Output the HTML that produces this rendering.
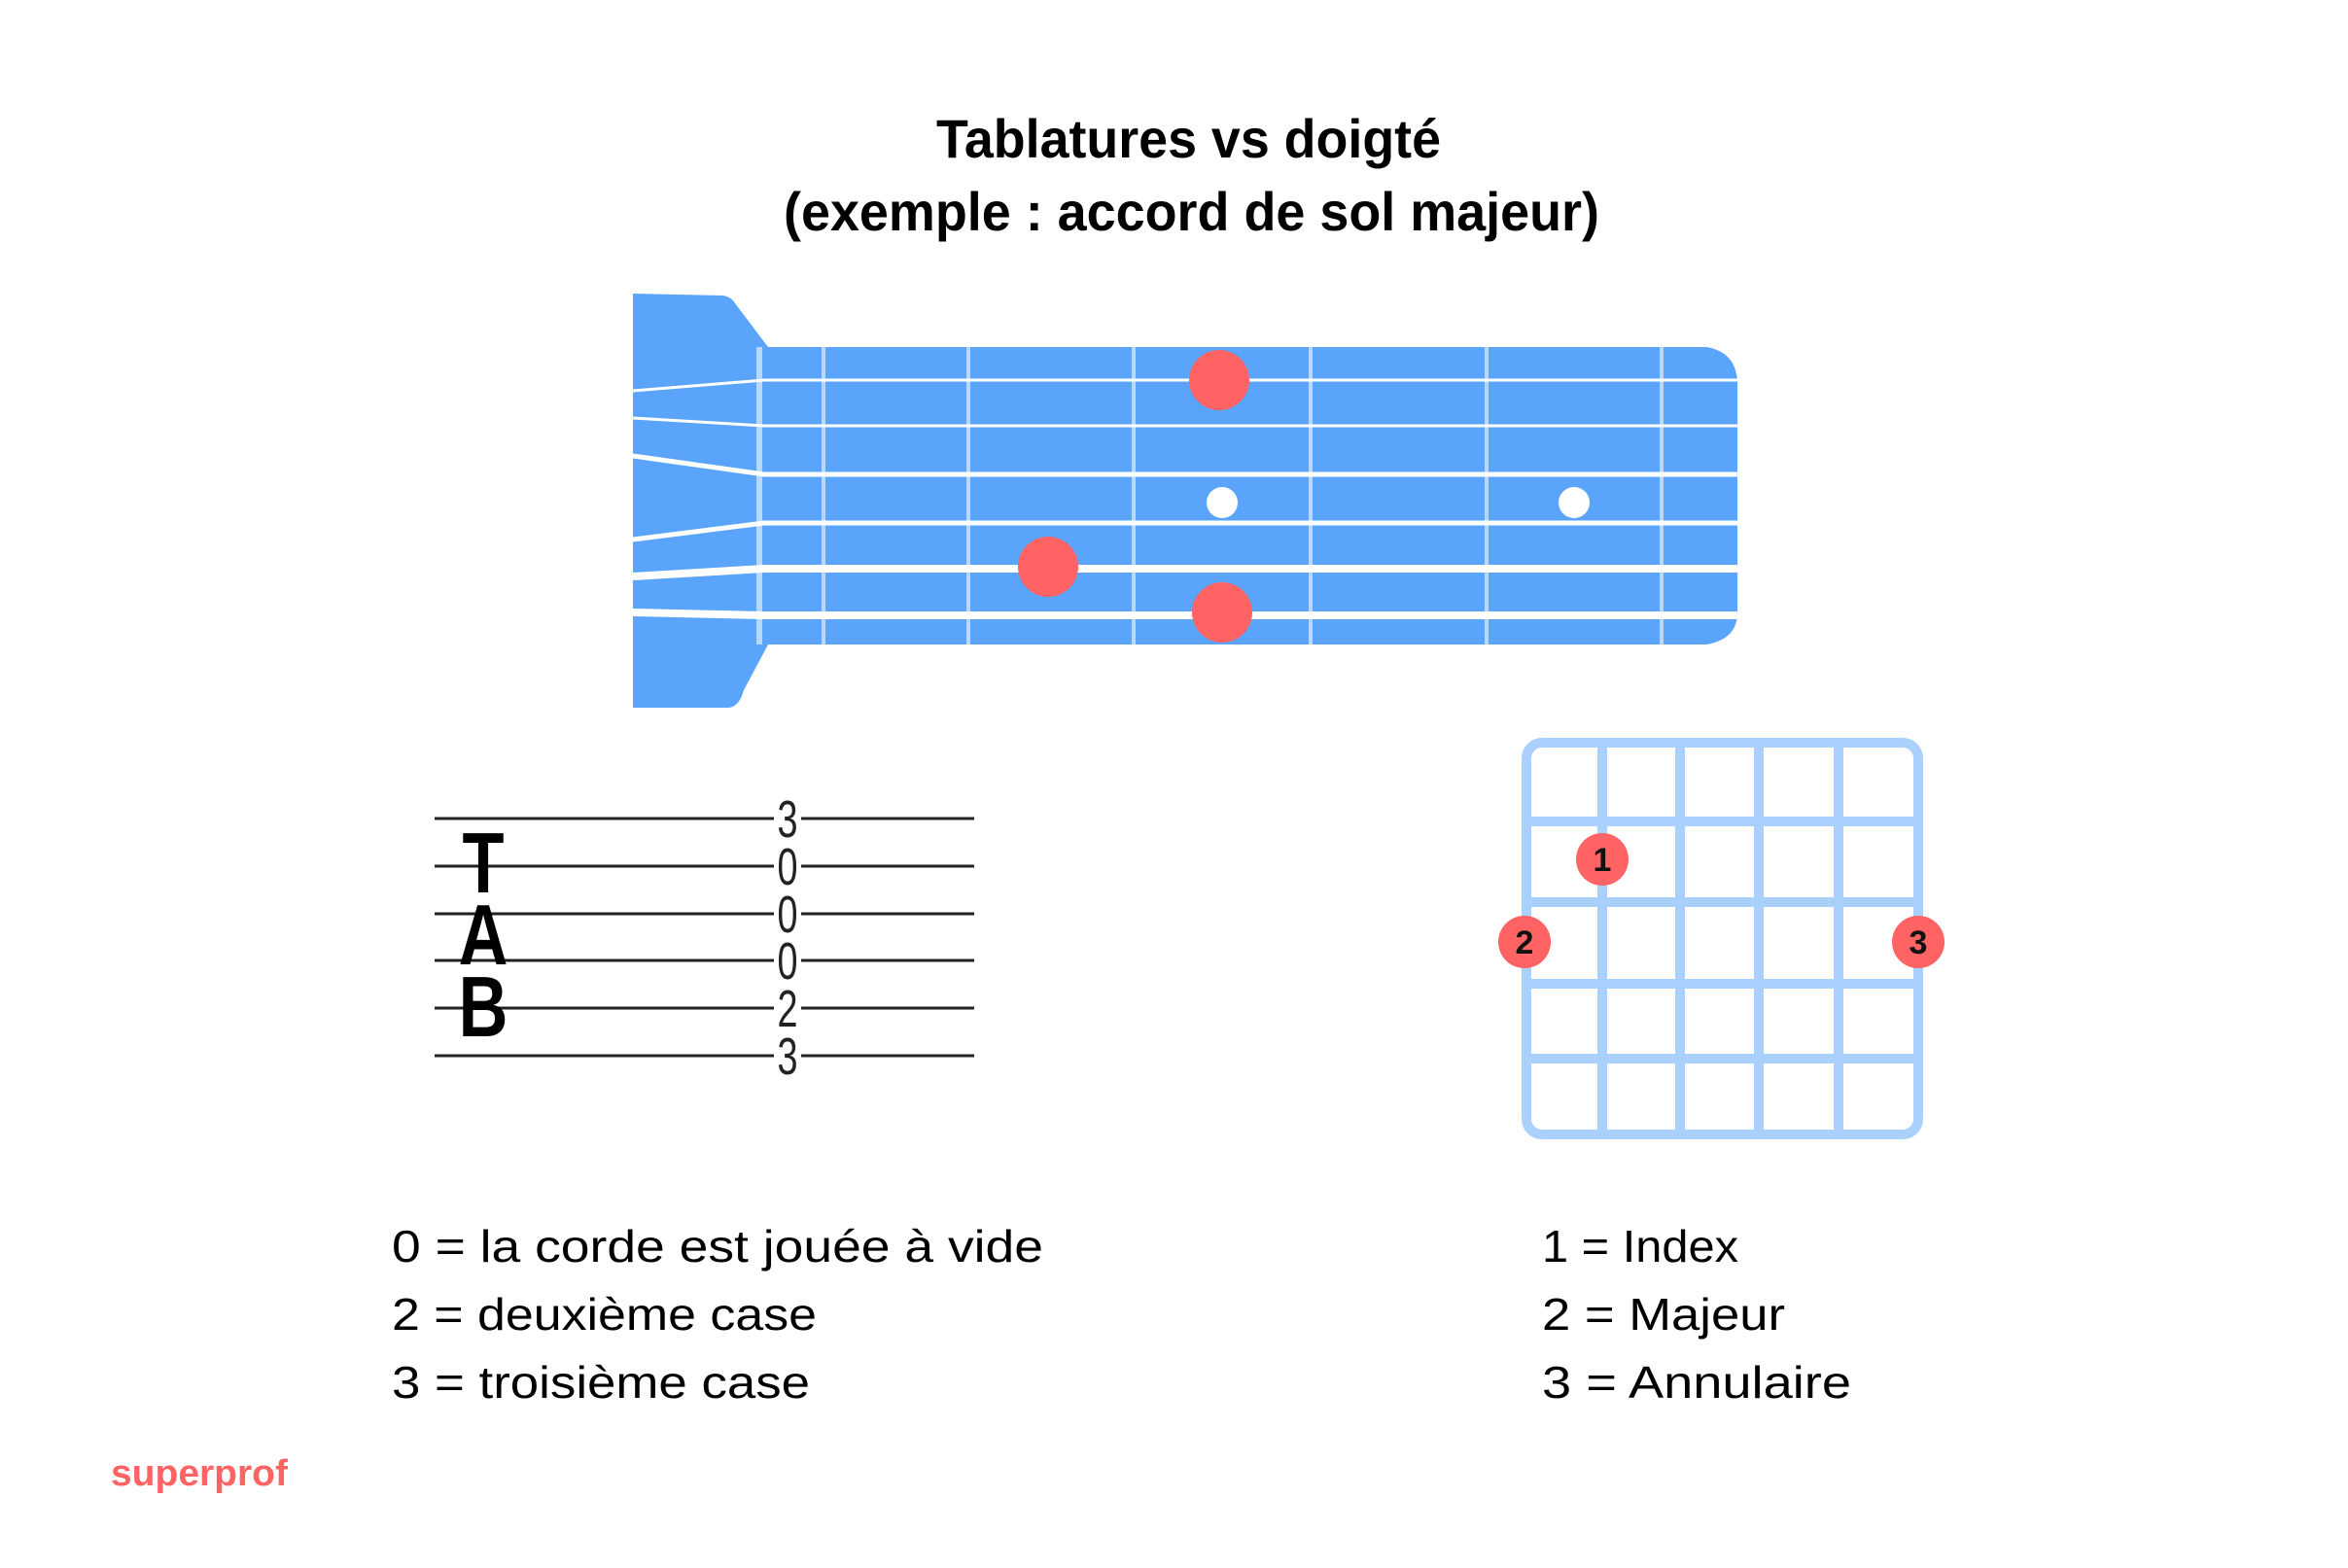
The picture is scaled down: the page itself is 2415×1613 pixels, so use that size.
<!DOCTYPE html>
<html><head><meta charset="utf-8"><style>
html,body{margin:0;padding:0;background:#fff;}
svg{display:block;}
text{font-family:"Liberation Sans",sans-serif;}
</style></head><body>
<svg width="2415" height="1613" viewBox="0 0 2415 1613" xmlns="http://www.w3.org/2000/svg">
<rect width="2415" height="1613" fill="#fff"/>
<text x="963" y="162" font-size="56" font-weight="bold" textLength="519" lengthAdjust="spacingAndGlyphs">Tablatures vs doigté</text>
<text x="806" y="237" font-size="56" font-weight="bold" textLength="839" lengthAdjust="spacingAndGlyphs">(exemple : accord de sol majeur)</text>

<path d="M651 302 L743 304 Q752 305 756 312 L790 357 L790 663 L765 710 Q760 728 748 728 L651 728 Z" fill="#5aa4fc"/>
<path d="M785 357 L1755 357 Q1785 362 1787 392 L1787 633 Q1785 658 1755 663 L785 663 Z" fill="#5aa4fc"/>
<g fill="#b9d6fb">
<rect x="778" y="357" width="6" height="306"/>
<rect x="845" y="357" width="4" height="306"/>
<rect x="994" y="357" width="4" height="306"/>
<rect x="1164" y="357" width="4" height="306"/>
<rect x="1346" y="357" width="4" height="306"/>
<rect x="1527" y="357" width="4" height="306"/>
<rect x="1707" y="357" width="4" height="306"/>
</g>
<g fill="none" stroke="#fff">
<polyline points="651,402 786,391 1787,391" stroke-width="3"/>
<polyline points="651,430 786,438 1787,438" stroke-width="3"/>
<polyline points="651,469 786,488 1787,488" stroke-width="5"/>
<polyline points="651,555 786,538 1787,538" stroke-width="5"/>
<polyline points="651,593 786,585 1787,585" stroke-width="8"/>
<polyline points="651,630 786,633 1787,633" stroke-width="8"/>
</g>
<circle cx="1254" cy="391" r="31" fill="#ff6363"/>
<circle cx="1078" cy="583" r="31" fill="#ff6363"/>
<circle cx="1257" cy="630" r="31" fill="#ff6363"/>
<circle cx="1257" cy="517" r="16" fill="#fff"/>
<circle cx="1619" cy="517" r="16" fill="#fff"/>

<g stroke="#222" stroke-width="3">
<line x1="447" y1="842" x2="1002" y2="842"/>
<line x1="447" y1="891" x2="1002" y2="891"/>
<line x1="447" y1="940" x2="1002" y2="940"/>
<line x1="447" y1="988" x2="1002" y2="988"/>
<line x1="447" y1="1037" x2="1002" y2="1037"/>
<line x1="447" y1="1086" x2="1002" y2="1086"/>
</g>
<g font-size="88" font-weight="bold" fill="#000" text-anchor="middle">
<text transform="translate(497,918) scale(0.8,1)">T</text>
<text transform="translate(497,992) scale(0.8,1)">A</text>
<text transform="translate(497,1066) scale(0.8,1)">B</text>
</g>
<rect x="796" y="822" width="28" height="280" fill="#fff"/>
<g font-size="54" fill="#222" text-anchor="middle" style="font-family:'Liberation Serif',serif">
<text transform="translate(810,861) scale(0.7,1)">3</text>
<text transform="translate(810,910) scale(0.7,1)">0</text>
<text transform="translate(810,959) scale(0.7,1)">0</text>
<text transform="translate(810,1007) scale(0.7,1)">0</text>
<text transform="translate(810,1056) scale(0.7,1)">2</text>
<text transform="translate(810,1105) scale(0.7,1)">3</text>
</g>

<g stroke="#aad0fd" stroke-width="10" fill="none">
<rect x="1570" y="764" width="403" height="403" rx="16"/>
<line x1="1570" y1="845" x2="1973" y2="845"/>
<line x1="1570" y1="928" x2="1973" y2="928"/>
<line x1="1570" y1="1012" x2="1973" y2="1012"/>
<line x1="1570" y1="1089" x2="1973" y2="1089"/>
<line x1="1648" y1="764" x2="1648" y2="1167"/>
<line x1="1728" y1="764" x2="1728" y2="1167"/>
<line x1="1809" y1="764" x2="1809" y2="1167"/>
<line x1="1891" y1="764" x2="1891" y2="1167"/>
</g>
<g fill="#ff6363">
<circle cx="1648" cy="884" r="27"/>
<circle cx="1568" cy="969" r="27"/>
<circle cx="1973" cy="969" r="27"/>
</g>
<g font-size="34" font-weight="bold" fill="#111" text-anchor="middle">
<text x="1648" y="896">1</text>
<text x="1568" y="981">2</text>
<text x="1973" y="981">3</text>
</g>

<g font-size="46" fill="#000">
<text x="403" y="1298" textLength="670" lengthAdjust="spacingAndGlyphs">0 = la corde est jouée à vide</text>
<text x="403" y="1368" textLength="437" lengthAdjust="spacingAndGlyphs">2 = deuxième case</text>
<text x="403" y="1438" textLength="430" lengthAdjust="spacingAndGlyphs">3 = troisième case</text>
<text x="1586" y="1298" textLength="202" lengthAdjust="spacingAndGlyphs">1 = Index</text>
<text x="1586" y="1368" textLength="250" lengthAdjust="spacingAndGlyphs">2 = Majeur</text>
<text x="1586" y="1438" textLength="318" lengthAdjust="spacingAndGlyphs">3 = Annulaire</text>
</g>
<text x="114" y="1528" font-size="38" font-weight="bold" fill="#ff6363" textLength="182" lengthAdjust="spacingAndGlyphs">superprof</text>
</svg>
</body></html>
